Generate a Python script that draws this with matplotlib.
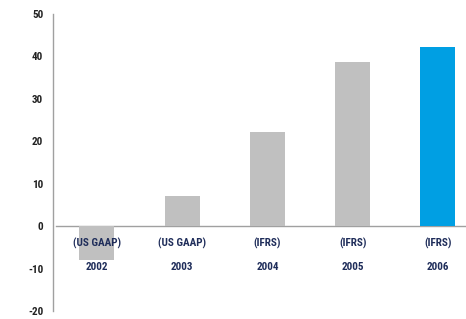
import matplotlib
matplotlib.use("Agg")
import matplotlib.pyplot as plt
from matplotlib import font_manager

years = ["2002", "2003", "2004", "2005", "2006"]
standards = ["(US GAAP)", "(US GAAP)", "(IFRS)", "(IFRS)", "(IFRS)"]
values = [-8.0, 7.0, 22.3, 38.8, 42.3]
colors = ["#c0c0c0", "#c0c0c0", "#c0c0c0", "#c0c0c0", "#009fe3"]
yticks = [-20, -10, 0, 10, 20, 30, 40, 50]

names = {f.name for f in font_manager.fontManager.ttflist}
choice = "Liberation Sans"
for cand in ["Liberation Sans Narrow", "Roboto Condensed", "Barlow Semi Condensed", "Archivo Narrow"]:
    if cand in names:
        choice = cand
        break
plt.rcParams["font.family"] = [choice, "DejaVu Sans"]

fig = plt.figure(figsize=(4.66, 3.19), dpi=100)
ax = fig.add_axes([0.1137, 0.025, 0.8863, 0.931])

x = list(range(len(years)))
ax.bar(x, values, width=0.41, color=colors, zorder=2)
ax.axhline(0, color="#a0a0a0", lw=1.0, zorder=1, xmin=0.008)

ax.set_xlim(-0.516, 4.33)
ax.set_ylim(-20, 50)
ax.set_yticks(yticks)
ax.set_yticklabels([str(t) for t in yticks], fontsize=8, fontweight="bold", color="#222222")
ax.tick_params(axis="y", length=0, pad=7)
ax.set_xticks([])

for s in ["top", "right", "bottom"]:
    ax.spines[s].set_visible(False)
ax.spines["left"].set_color("#a0a0a0")
ax.spines["left"].set_linewidth(1.0)

for xi, st, yr in zip(x, standards, years):
    ax.text(xi, -4.0, st, ha="center", va="center", fontsize=8, fontweight="bold", color="#1f2d5a", zorder=3)
    ax.text(xi, -9.7, yr, ha="center", va="center", fontsize=8, fontweight="bold", color="#1f2d5a", zorder=3)

fig.savefig("out.png", dpi=100)
